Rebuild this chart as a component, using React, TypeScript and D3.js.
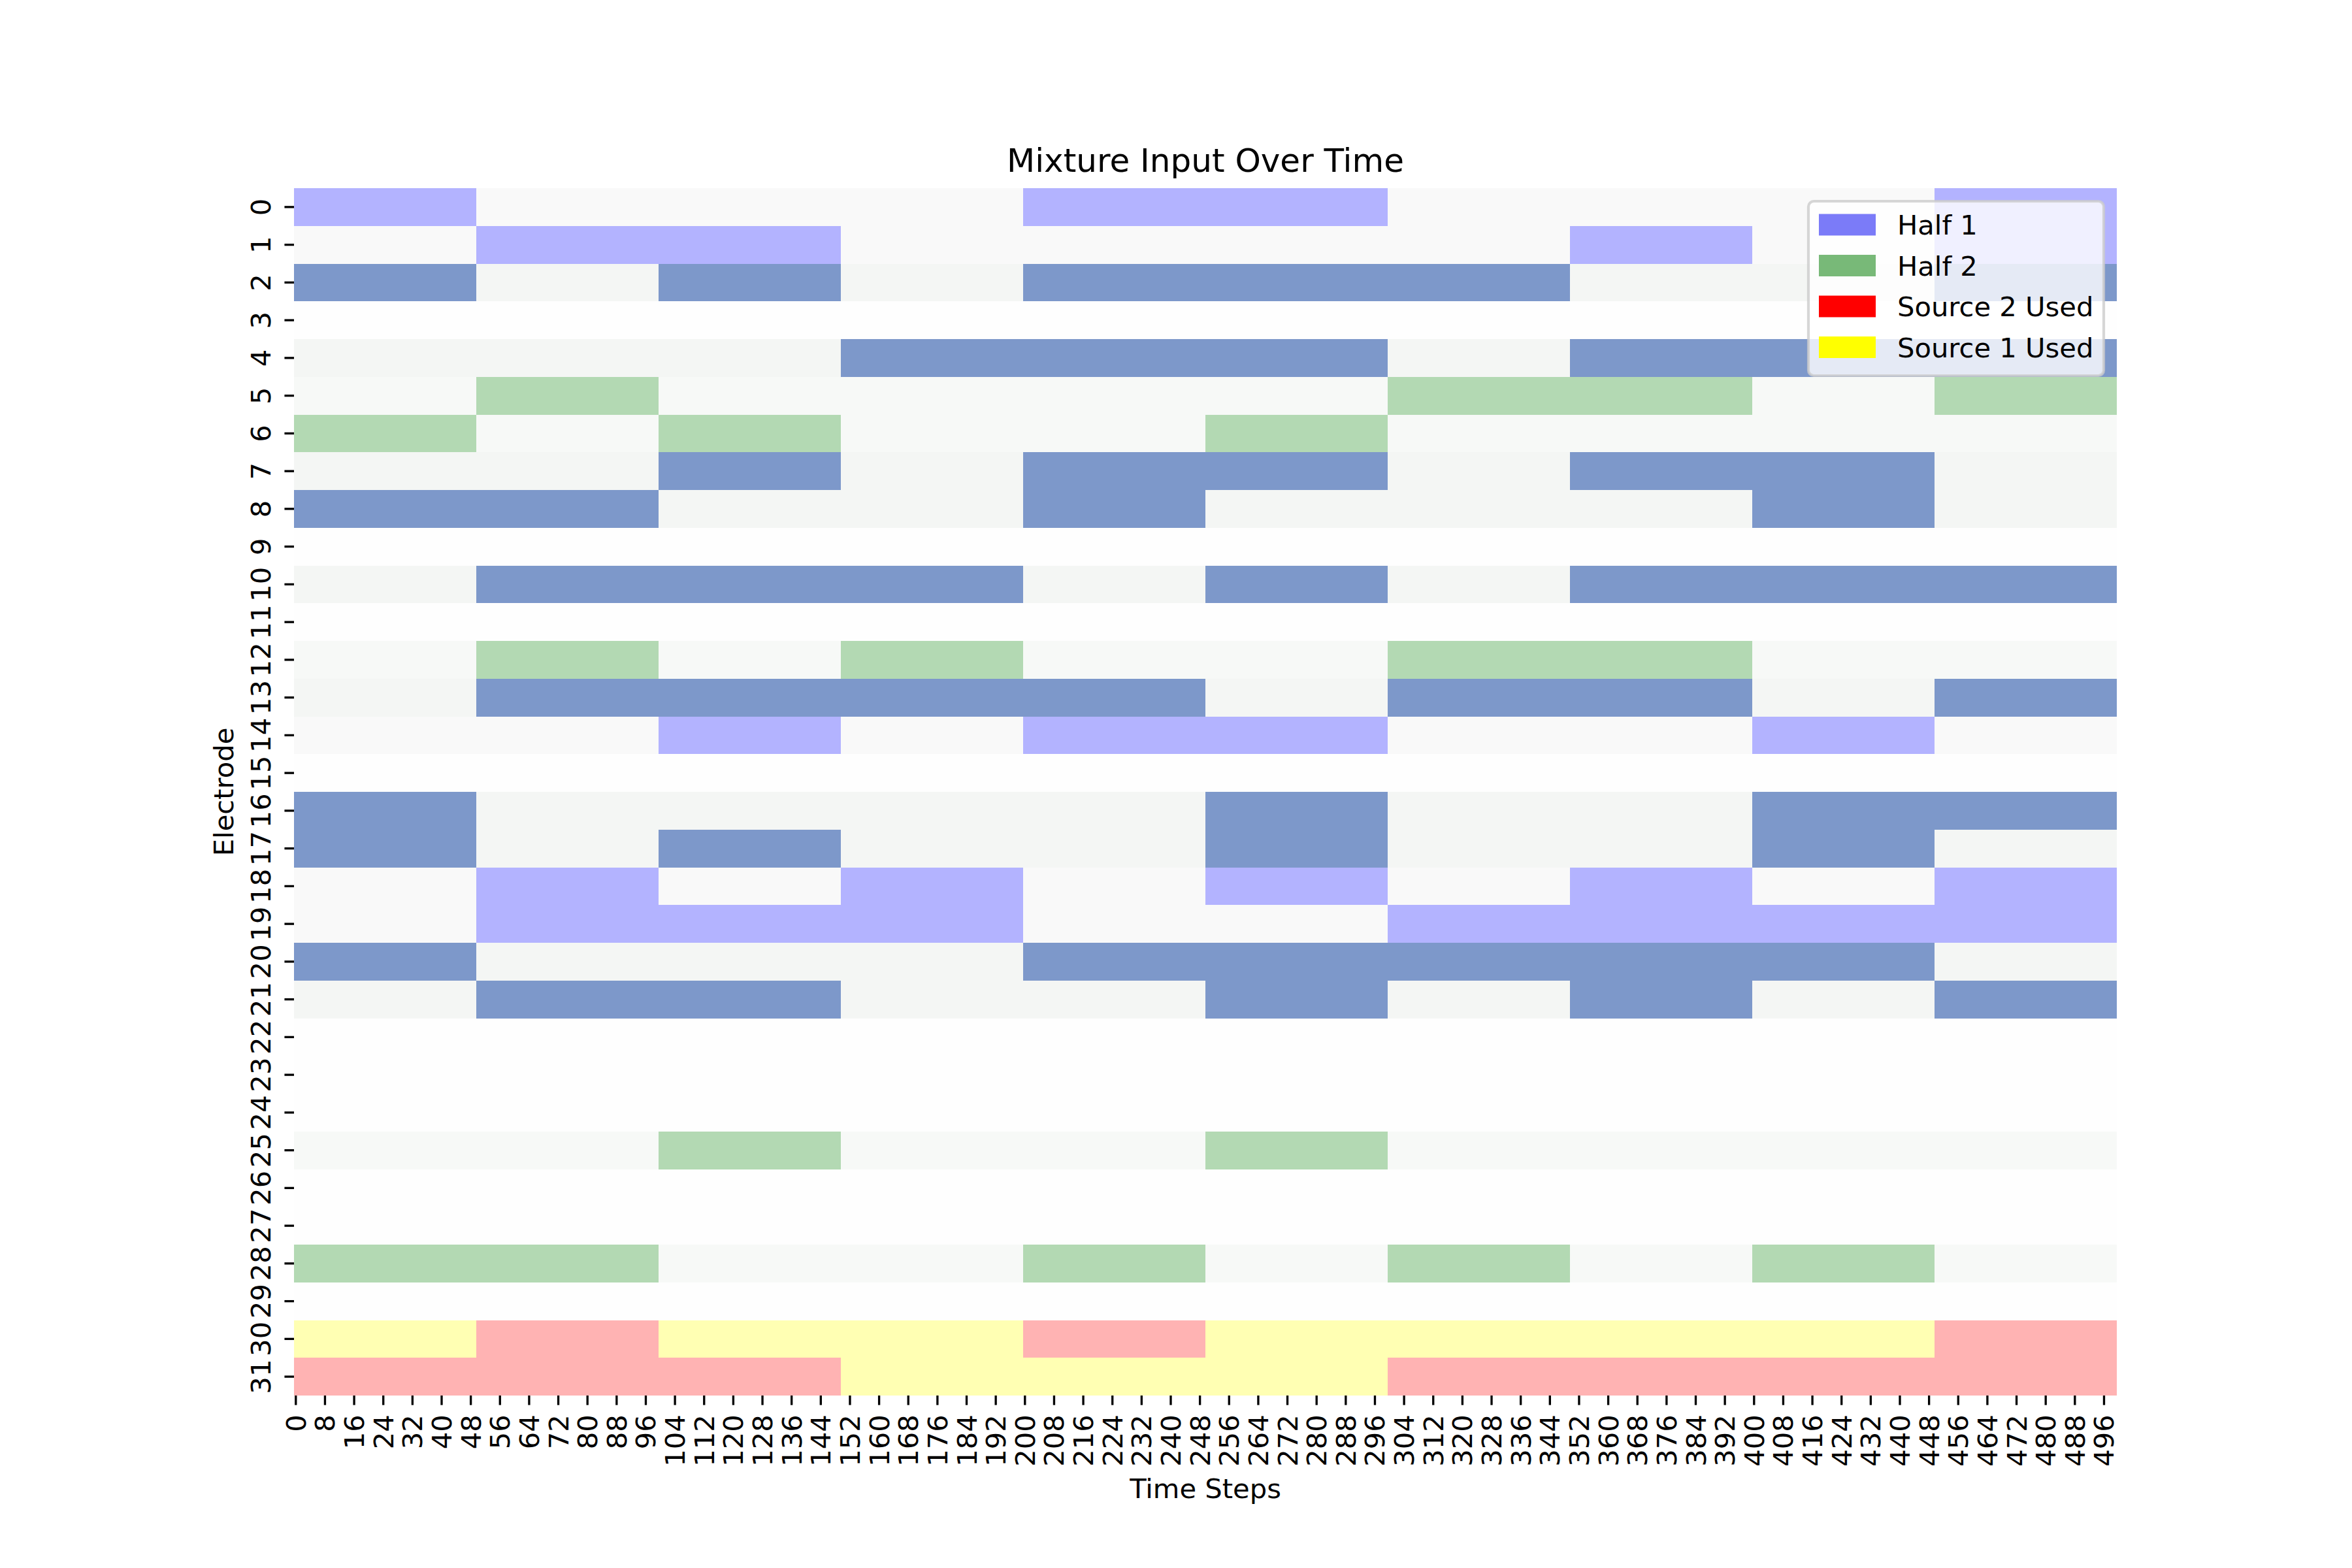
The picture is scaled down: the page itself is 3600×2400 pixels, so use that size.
import React from 'react';
import * as d3 from 'd3';

// ---------- data ----------
const electrodeLabels = [
  "0","1","2","3","4","5","6","7","8","9","10","11","12","13","14","15",
  "16","17","18","19","20","21","22","23","24","25","26","27","28","29","30","31",
];

const timeTickValues = [
  0, 8, 16, 24, 32, 40, 48, 56, 64, 72, 80, 88, 96, 104, 112, 120, 128, 136, 144, 152,
  160, 168, 176, 184, 192, 200, 208, 216, 224, 232, 240, 248, 256, 264, 272, 280, 288,
  296, 304, 312, 320, 328, 336, 344, 352, 360, 368, 376, 384, 392, 400, 408, 416, 424,
  432, 440, 448, 456, 464, 472, 480, 488, 496,
];

const totalSteps = 500;
const blockStarts = [0, 50, 100, 150, 200, 250, 300, 350, 400, 450];
const blockLength = 50;

// one code per 50-step block: P = Half 1, G = Half 2, D = both halves,
// R = Source 2 used, Y = Source 1 used, o = inactive, - = empty electrode
const electrodeStates = [
  "PoooPPoooP", // 0
  "oPPooooPoP", // 1
  "DoDoDDDooD", // 2
  "----------", // 3
  "oooDDDoDDD", // 4
  "oGooooGGoG", // 5
  "GoGooGoooo", // 6
  "ooDoDDoDDo", // 7
  "DDooDoooDo", // 8
  "----------", // 9
  "oDDDoDoDDD", // 10
  "----------", // 11
  "oGoGooGGoo", // 12
  "oDDDDoDDoD", // 13
  "ooPoPPooPo", // 14
  "----------", // 15
  "DooooDooDD", // 16
  "DoDooDooDo", // 17
  "oPoPoPoPoP", // 18
  "oPPPooPPPP", // 19
  "DoooDDDDDo", // 20
  "oDDooDoDoD", // 21
  "----------", // 22
  "----------", // 23
  "----------", // 24
  "ooGooGoooo", // 25
  "----------", // 26
  "----------", // 27
  "GGooGoGoGo", // 28
  "----------", // 29
  "YRYYRYYYYR", // 30
  "RRRYYYRRRR", // 31
];

const legendLabels = ["Half 1", "Half 2", "Source 2 Used", "Source 1 Used"];
const legendColors = ["#7b7bf8", "#78b978", "#ff0000", "#ffff00"];

// ---------- styles ----------
const stateColors: Record<string, string> = {
  P: "#b3b3ff",
  G: "#b3d9b3",
  D: "#7d98ca",
  R: "#ffb3b3",
  Y: "#ffffb3",
  "-": "#fefefe",
};
const offColors: Record<string, string> = {
  P: "#f9f9f9",
  G: "#f7f9f7",
  D: "#f4f6f4",
};

const W = 3600;
const H = 2400;
const left = 450, right = 3240, top = 288, bottom = 2136;
const FONT = "DejaVu Sans, sans-serif";
const fs = 41.67;

export default function App() {
  const x = d3.scaleLinear().domain([0, totalSteps]).range([left, right]);
  const y = d3.scaleBand().domain(electrodeLabels).range([top, bottom]).padding(0);

  const cells: JSX.Element[] = [];
  electrodeStates.forEach((states, r) => {
    const kind = states.split("").find((c) => c === "P" || c === "G" || c === "D") || "P";
    blockStarts.forEach((s, b) => {
      const code = states[b];
      const fill = code === "o" ? offColors[kind] : stateColors[code];
      const x0 = x(s);
      const x1 = x(s + blockLength);
      const y0 = y(electrodeLabels[r])!;
      cells.push(
        <rect key={`${r}-${b}`} x={x0} y={y0} width={x1 - x0} height={y.bandwidth()}
          fill={fill} shapeRendering="crispEdges" />
      );
    });
  });

  const tickLen = 14.58;
  const legendX = 2768, legendY = 308, legendW = 452, legendH = 267;
  const legendRowCenters = [344, 406.5, 469, 531.5];

  return (
    <svg width={W} height={H} style={{ position: "absolute", left: 0, top: 0, background: "#fff" }}
      fontFamily={FONT}>
      <rect x={0} y={0} width={W} height={H} fill="#ffffff" />
      {cells}

      {/* y ticks */}
      {electrodeLabels.map((lab) => {
        const yc = y(lab)! + y.bandwidth() / 2;
        return (
          <g key={`yt${lab}`}>
            <line x1={left - tickLen} x2={left} y1={yc} y2={yc} stroke="#000" strokeWidth={3.33} />
            <text transform={`translate(414,${yc}) rotate(-90)`} textAnchor="middle"
              fontSize={fs} fill="#000">{lab}</text>
          </g>
        );
      })}

      {/* x ticks */}
      {timeTickValues.map((t) => {
        const xc = x(t + 0.5);
        return (
          <g key={`xt${t}`}>
            <line x1={xc} x2={xc} y1={bottom} y2={bottom + tickLen} stroke="#000" strokeWidth={3.33} />
            <text transform={`translate(${xc + 15},${bottom + 2 * tickLen}) rotate(-90)`}
              textAnchor="end" fontSize={fs} fill="#000">{t}</text>
          </g>
        );
      })}

      {/* axis labels and title */}
      <text x={(left + right) / 2} y={2293} textAnchor="middle" fontSize={fs} fill="#000">Time Steps</text>
      <text transform={`translate(357,${(top + bottom) / 2}) rotate(-90)`} textAnchor="middle"
        fontSize={fs} fill="#000">Electrode</text>
      <text x={(left + right) / 2} y={263} textAnchor="middle" fontSize={50} fill="#000">Mixture Input Over Time</text>

      {/* legend */}
      <rect x={legendX} y={legendY} width={legendW} height={legendH} rx={8.3} ry={8.3}
        fill="#ffffff" fillOpacity={0.8} stroke="#cccccc" strokeOpacity={0.8} strokeWidth={4.17} />
      {legendLabels.map((lab, i) => (
        <g key={`lg${i}`}>
          <rect x={2784} y={legendRowCenters[i] - 16.5} width={87} height={33} fill={legendColors[i]} />
          <text x={2904} y={legendRowCenters[i] + 15} fontSize={fs} fill="#000">{lab}</text>
        </g>
      ))}
    </svg>
  );
}
